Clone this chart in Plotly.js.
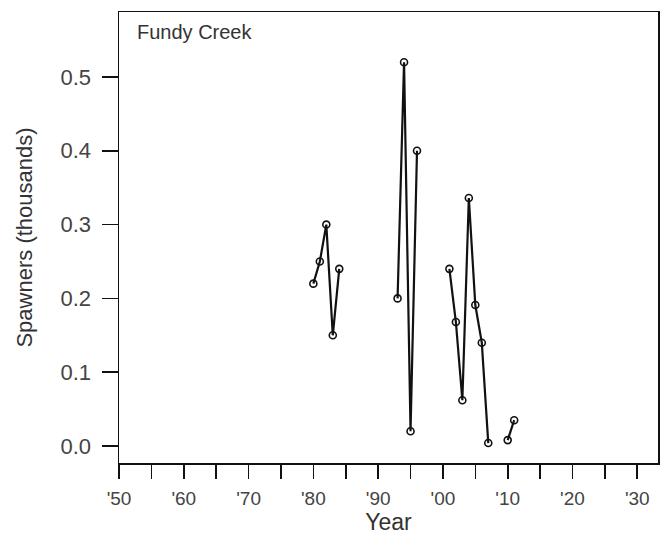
<!DOCTYPE html>
<html>
<head>
<meta charset="utf-8">
<script src="https://cdn.plot.ly/plotly-3.0.1.min.js"></script>
<style>html,body{margin:0;padding:0;background:#fff;}#chart{width:671px;height:540px;}</style>
</head>
<body>
<div id="chart"></div>
<script>
const years = [1980,1981,1982,1983,1984,1985,1993,1994,1995,1996,1997,2001,2002,2003,2004,2005,2006,2007,2008,2010,2011];
const spawners = [0.22,0.25,0.30,0.15,0.24,null,0.20,0.52,0.02,0.40,null,0.24,0.168,0.062,0.336,0.191,0.14,0.004,null,0.008,0.035];
const xTickVals = [1950,1955,1960,1965,1970,1975,1980,1985,1990,1995,2000,2005,2010,2015,2020,2025,2030];
const xTickText = ["'50","","'60","","'70","","'80","","'90","","'00","","'10","","'20","","'30"];
const yTickVals = [0,0.1,0.2,0.3,0.4,0.5];
const yTickText = ["0.0","0.1","0.2","0.3","0.4","0.5"];
const siteName = "Fundy Creek";

const font = "Liberation Sans, Arial, sans-serif";
Plotly.newPlot('chart', [{
  x: years, y: spawners, type: 'scatter', mode: 'lines+markers',
  connectgaps: false,
  line: {color: '#111', width: 2.2},
  marker: {symbol: 'circle-open', size: 7, color: '#111', line: {width: 1.6, color: '#111'}}
}], {
  width: 671, height: 540,
  margin: {l: 119, r: 13, t: 12, b: 77},
  paper_bgcolor: '#fff', plot_bgcolor: '#fff',
  showlegend: false,
  font: {family: font, color: '#222'},
  xaxis: {
    range: [1950, 2033.2], showgrid: false, zeroline: false,
    showline: true, mirror: true, linecolor: '#111', linewidth: 1.5,
    ticks: 'outside', ticklen: 14, tickwidth: 1.6, tickcolor: '#111',
    tickmode: 'array', tickvals: xTickVals, ticktext: xTickText,
    ticklabelstandoff: 4,
    tickfont: {size: 19, family: font, color: '#444'},
    title: {text: 'Year', font: {size: 23, family: font, color: '#333'}, standoff: 5}
  },
  yaxis: {
    range: [-0.023, 0.588], showgrid: false, zeroline: false,
    showline: true, mirror: true, linecolor: '#111', linewidth: 1.5,
    ticks: 'outside', ticklen: 16, tickwidth: 1.6, tickcolor: '#111',
    tickmode: 'array', tickvals: yTickVals, ticktext: yTickText,
    ticklabelstandoff: 6,
    tickfont: {size: 22, family: font, color: '#444'},
    title: {text: 'Spawners (thousands)', font: {size: 22, family: font, color: '#333'}, standoff: 22}
  },
  annotations: [{
    text: siteName, xref: 'paper', yref: 'paper', x: 0.03, y: 0.985,
    xanchor: 'left', yanchor: 'top', showarrow: false,
    font: {size: 20, family: font, color: '#333'}
  }]
}, {displayModeBar: false, staticPlot: true});
</script>
</body>
</html>
